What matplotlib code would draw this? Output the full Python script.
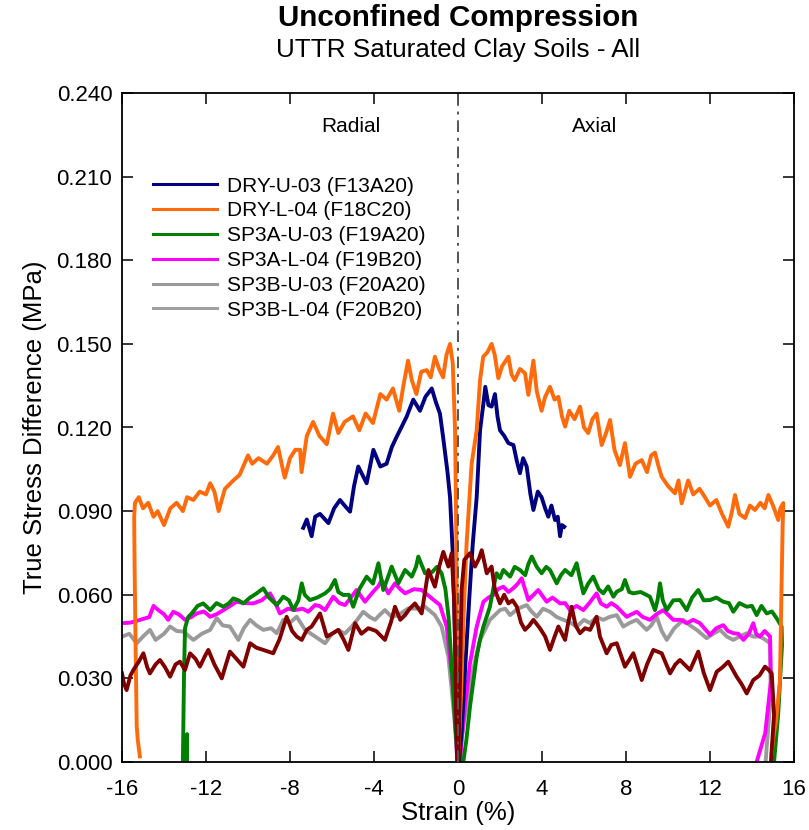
import matplotlib
matplotlib.use("Agg")
import matplotlib.pyplot as plt
from matplotlib.lines import Line2D

plt.rcParams['font.family'] = ['Liberation Sans', 'DejaVu Sans']

# ---------------- data (strain %, true stress difference MPa) ----------------
dry_u03_rad_strain = [-7.37, -7.2, -6.97, -6.8, -6.57, -6.17, -5.9, -5.62, -5.4, -5.14, -4.95, -4.75, -4.35,
                      -4.03, -3.7, -3.4, -3.15, -2.92, -2.7, -2.44, -2.13, -1.81, -1.55, -1.25, -1.05, -0.86,
                      -0.7, -0.5, -0.38, -0.25, -0.19, -0.1, -0.03]
dry_u03_rad_stress = [0.084, 0.087, 0.081, 0.088, 0.089, 0.0857, 0.091, 0.094, 0.092, 0.0898, 0.099, 0.106, 0.100,
                      0.112, 0.106, 0.107, 0.113, 0.1167, 0.120, 0.124, 0.130, 0.126, 0.131, 0.134, 0.129, 0.125,
                      0.116, 0.104, 0.095, 0.075, 0.059, 0.030, 0.0]
dry_u03_ax_strain = [0.05, 0.18, 0.35, 0.54, 0.7, 0.89, 1.05, 1.2, 1.3, 1.45, 1.6, 1.76, 1.88, 2.0, 2.2, 2.4,
                     2.64, 2.8, 2.95, 3.1, 3.27, 3.45, 3.59, 3.8, 3.98, 4.15, 4.3, 4.45, 4.62, 4.75, 4.86,
                     4.95, 5.06]
dry_u03_ax_stress = [0.0, 0.0115, 0.035, 0.059, 0.078, 0.095, 0.119, 0.128, 0.1346, 0.128, 0.1275, 0.132, 0.124,
                     0.119, 0.117, 0.1144, 0.1137, 0.108, 0.1036, 0.109, 0.106, 0.096, 0.0904, 0.097, 0.095,
                     0.091, 0.088, 0.092, 0.0868, 0.088, 0.081, 0.085, 0.0844]

dry_l04_rad_strain = [-15.15, -15.25, -15.3, -15.35, -15.4, -15.42, -15.38, -15.2, -15.0, -14.75, -14.5, -14.3,
                      -14.0, -13.7, -13.4, -13.1, -12.9, -12.6, -12.3, -12.0, -11.8, -11.6, -11.4, -11.1,
                      -10.7, -10.4, -10.0, -9.8, -9.5, -9.1, -8.8, -8.57, -8.4, -8.25, -8.0, -7.75, -7.52,
                      -7.45, -7.2, -6.9, -6.6, -6.25, -5.95, -5.7, -5.4, -5.0, -4.7, -4.4, -4.05, -3.7, -3.4,
                      -3.1, -2.8, -2.6, -2.38, -2.2, -1.98, -1.75, -1.49, -1.3, -1.1, -0.9, -0.71, -0.55,
                      -0.38, -0.25, -0.14, -0.08, -0.04, 0.0]
dry_l04_rad_stress = [0.002, 0.008, 0.013, 0.040, 0.070, 0.088, 0.093, 0.095, 0.091, 0.093, 0.088, 0.090,
                      0.085, 0.091, 0.093, 0.090, 0.095, 0.094, 0.097, 0.096, 0.100, 0.097, 0.090, 0.098,
                      0.101, 0.103, 0.110, 0.107, 0.109, 0.107, 0.110, 0.113, 0.107, 0.102, 0.109, 0.112, 0.112,
                      0.104, 0.117, 0.122, 0.117, 0.114, 0.125, 0.118, 0.122, 0.124, 0.119, 0.125, 0.1216, 0.132,
                      0.130, 0.134, 0.126, 0.135, 0.144, 0.137, 0.132, 0.140, 0.1406, 0.138, 0.1454, 0.141,
                      0.138, 0.146, 0.150, 0.143, 0.119, 0.080, 0.030, 0.0]
dry_l04_ax_strain = [0.0, 0.15, 0.28, 0.41, 0.65, 0.89, 1.05, 1.2, 1.4, 1.6, 1.75, 1.92, 2.1, 2.4, 2.55, 2.7,
                     2.95, 3.19, 3.35, 3.59, 3.75, 3.98, 4.15, 4.38, 4.6, 4.78, 4.95, 5.1, 5.3, 5.55, 5.81,
                     6.0, 6.2, 6.4, 6.6, 6.84, 7.05, 7.24, 7.45, 7.71, 7.95, 8.19, 8.45, 8.75, 9.0, 9.2,
                     9.38, 9.55, 9.7, 10.0, 10.33, 10.5, 10.65, 10.96, 11.2, 11.5, 11.76, 12.0, 12.3, 12.56,
                     12.87, 13.05, 13.19, 13.4, 13.67, 13.9, 14.14, 14.4, 14.6, 14.78, 15.0, 15.25, 15.35,
                     15.49, 15.46, 15.4, 15.33, 15.15, 15.0, 14.94]
dry_l04_ax_stress = [0.0, 0.025, 0.055, 0.0785, 0.107, 0.119, 0.137, 0.1454, 0.147, 0.150, 0.146, 0.1377,
                     0.142, 0.1454, 0.139, 0.137, 0.141, 0.1395, 0.1317, 0.144, 0.133, 0.126, 0.131, 0.1346,
                     0.130, 0.131, 0.124, 0.1203, 0.126, 0.123, 0.1275, 0.120, 0.118, 0.123, 0.125, 0.1137,
                     0.118, 0.1227, 0.112, 0.1065, 0.1144, 0.1023, 0.107, 0.1083, 0.104, 0.110, 0.111, 0.106,
                     0.1023, 0.099, 0.0964, 0.101, 0.0928, 0.101, 0.096, 0.098, 0.095, 0.092, 0.094, 0.0892,
                     0.0844, 0.090, 0.0958, 0.089, 0.0875, 0.092, 0.0904, 0.093, 0.091, 0.0958, 0.092, 0.0868,
                     0.091, 0.0929, 0.085, 0.060, 0.029, 0.015, 0.008, 0.003]

sp3a_u03_rad_strain = [-12.9, -12.9, -13.0, -13.1, -13.05, -13.0, -12.85, -12.68, -12.4, -12.13, -11.8, -11.5,
                       -11.17, -10.9, -10.7, -10.45, -10.22, -9.9, -9.59, -9.27, -9.0, -8.63, -8.32, -8.05,
                       -7.84, -7.6, -7.44, -7.3, -7.05, -6.7, -6.33, -6.1, -5.86, -5.7, -5.46, -5.2, -4.99,
                       -4.7, -4.35, -4.05, -3.79, -3.56, -3.35, -3.16, -2.84, -2.52, -2.2, -2.0, -1.89, -1.57,
                       -1.25, -1.0, -0.78, -0.6, -0.45, -0.35, -0.25, -0.12, 0.0]
sp3a_u03_rad_stress = [0.0, 0.010, 0.0, 0.0, 0.030, 0.048, 0.052, 0.0533, 0.056, 0.0569, 0.0545, 0.057,
                       0.0557, 0.057, 0.0587, 0.058, 0.0569, 0.059, 0.0605, 0.0623, 0.059, 0.0563, 0.0593, 0.058,
                       0.0545, 0.058, 0.0641, 0.060, 0.0581, 0.059, 0.0605, 0.062, 0.0653, 0.061, 0.0599, 0.060,
                       0.0557, 0.062, 0.0665, 0.064, 0.0713, 0.0617, 0.066, 0.0701, 0.0641, 0.0689, 0.0665,
                       0.070, 0.0737, 0.0677, 0.068, 0.070, 0.0677, 0.062, 0.052, 0.040, 0.028, 0.012, 0.0]
sp3a_u03_ax_strain = [0.25, 0.4, 0.57, 0.75, 0.89, 1.05, 1.21, 1.52, 1.7, 1.84, 2.0, 2.16, 2.48, 2.7, 2.95,
                      3.2, 3.35, 3.51, 3.75, 3.98, 4.2, 4.38, 4.7, 4.9, 5.1, 5.4, 5.65, 5.8, 5.97, 6.2, 6.44,
                      6.7, 6.92, 7.15, 7.4, 7.56, 7.8, 7.95, 8.15, 8.35, 8.7, 9.14, 9.38, 9.5, 9.62, 9.75,
                      9.94, 10.25, 10.57, 10.89, 11.15, 11.44, 11.7, 12.0, 12.3, 12.63, 12.9, 13.11, 13.4,
                      13.75, 14.0, 14.22, 14.45, 14.7, 14.95, 15.17, 15.41, 15.43, 15.25, 15.05]
sp3a_u03_ax_stress = [0.0, 0.008, 0.0198, 0.030, 0.0378, 0.044, 0.0486, 0.0557, 0.063, 0.0677, 0.066, 0.0689,
                      0.0665, 0.070, 0.0689, 0.067, 0.071, 0.0737, 0.070, 0.0677, 0.070, 0.0689, 0.0641, 0.067,
                      0.0689, 0.067, 0.0713, 0.066, 0.0605, 0.064, 0.0665, 0.062, 0.0605, 0.063, 0.0593, 0.0611,
                      0.062, 0.0653, 0.061, 0.0605, 0.061, 0.0593, 0.0545, 0.058, 0.0641, 0.058, 0.0545, 0.058,
                      0.0581, 0.0545, 0.059, 0.0617, 0.058, 0.0581, 0.059, 0.0575, 0.057, 0.0539, 0.057,
                      0.0557, 0.056, 0.0527, 0.056, 0.0533, 0.054, 0.0516, 0.0486, 0.042, 0.0175, 0.0]

sp3a_l04_rad_strain = [-16.0, -15.6, -15.14, -14.7, -14.5, -14.27, -14.0, -13.8, -13.56, -13.3, -13.0, -12.7,
                       -12.44, -12.1, -11.8, -11.5, -11.17, -10.85, -10.54, -10.2, -9.75, -9.35, -8.95, -8.7,
                       -8.48, -8.1, -7.76, -7.4, -7.13, -6.81, -6.6, -6.33, -5.94, -5.65, -5.38, -5.1, -4.83,
                       -4.43, -4.05, -3.8, -3.63, -3.32, -3.0, -2.75, -2.52, -2.1, -1.73, -1.25, -0.86, -0.54,
                       -0.3, -0.17, -0.03]
sp3a_l04_rad_stress = [0.0498, 0.050, 0.051, 0.052, 0.056, 0.0545, 0.053, 0.051, 0.0539, 0.053, 0.051, 0.052,
                       0.0533, 0.054, 0.0521, 0.053, 0.0545, 0.056, 0.0575, 0.057, 0.0569, 0.058, 0.0605, 0.057,
                       0.0533, 0.055, 0.0545, 0.055, 0.0539, 0.0563, 0.056, 0.0545, 0.0593, 0.057, 0.0563,
                       0.059, 0.0617, 0.0575, 0.061, 0.063, 0.0653, 0.0605, 0.0641, 0.062, 0.0605, 0.062,
                       0.0617, 0.0587, 0.0563, 0.0486, 0.0318, 0.0198, 0.0]
sp3a_l04_ax_strain = [0.1, 0.17, 0.33, 0.57, 0.89, 1.21, 1.45, 1.68, 1.9, 2.16, 2.4, 2.63, 2.85, 3.03, 3.35,
                      3.6, 3.82, 4.22, 4.5, 4.86, 5.1, 5.33, 5.65, 5.97, 6.25, 6.6, 6.8, 7.08, 7.3, 7.56, 8.03,
                      8.51, 8.8, 9.14, 9.45, 9.78, 10.25, 10.6, 10.89, 11.2, 11.52, 12.0, 12.3, 12.63, 12.85,
                      13.11, 13.35, 13.59, 13.85, 14.06, 14.2, 14.38, 14.6, 14.86, 14.9, 14.63, 14.22]
sp3a_l04_ax_stress = [0.0, 0.008, 0.0198, 0.0354, 0.0486, 0.0575, 0.059, 0.0599, 0.062, 0.0629, 0.061, 0.0623,
                      0.064, 0.0659, 0.0581, 0.060, 0.0617, 0.0575, 0.059, 0.0569, 0.057, 0.0545, 0.056, 0.0545,
                      0.057, 0.0605, 0.0569, 0.0557, 0.057, 0.0557, 0.0521, 0.0539, 0.052, 0.051, 0.053, 0.0545,
                      0.051, 0.051, 0.0498, 0.051, 0.0498, 0.0456, 0.048, 0.0491, 0.047, 0.0462, 0.046, 0.0438,
                      0.046, 0.0498, 0.046, 0.045, 0.047, 0.045, 0.029, 0.0104, 0.0]

sp3b_u03_rad_strain = [-16.0, -15.65, -15.3, -15.0, -14.67, -14.4, -14.0, -13.71, -13.4, -13.08, -12.6, -12.2,
                       -11.8, -11.49, -11.2, -10.86, -10.46, -10.2, -9.9, -9.6, -9.27, -8.9, -8.63, -8.32, -8.0,
                       -7.68, -7.28, -6.8, -6.33, -6.0, -5.7, -5.4, -5.06, -4.8, -4.51, -4.2, -3.95, -3.7,
                       -3.48, -3.15, -2.84, -2.37, -2.0, -1.57, -1.1, -0.78, -0.46, -0.3, -0.14, -0.03]
sp3b_u03_rad_stress = [0.045, 0.046, 0.0426, 0.045, 0.0474, 0.0438, 0.046, 0.0486, 0.047, 0.0468, 0.0438, 0.046,
                       0.0474, 0.0516, 0.049, 0.0486, 0.0438, 0.048, 0.051, 0.049, 0.0474, 0.048, 0.0462, 0.051,
                       0.050, 0.0521, 0.0474, 0.045, 0.0426, 0.046, 0.0474, 0.046, 0.0486, 0.051, 0.0539, 0.052,
                       0.051, 0.053, 0.0545, 0.052, 0.0527, 0.0551, 0.055, 0.0557, 0.0527, 0.0486, 0.0378,
                       0.0258, 0.0127, 0.0]
sp3b_u03_ax_strain = [0.05, 0.1, 0.25, 0.57, 0.8, 1.05, 1.52, 2.0, 2.25, 2.48, 2.85, 3.27, 3.5, 3.75, 4.05,
                      4.38, 4.7, 5.02, 5.35, 5.65, 6.0, 6.29, 6.6, 6.92, 7.2, 7.56, 7.87, 8.2, 8.51, 8.98, 9.2,
                      9.46, 9.7, 9.94, 10.3, 10.73, 11.05, 11.37, 11.84, 12.15, 12.48, 12.8, 13.11, 13.4, 13.75,
                      14.05, 14.38, 14.6, 14.86, 14.9, 14.7, 14.65]
sp3b_u03_ax_stress = [0.0, 0.003, 0.0127, 0.027, 0.036, 0.0438, 0.051, 0.0545, 0.055, 0.0527, 0.055, 0.0563,
                      0.054, 0.0521, 0.055, 0.0539, 0.052, 0.051, 0.050, 0.0486, 0.051, 0.0498, 0.052, 0.051,
                      0.052, 0.0527, 0.0486, 0.050, 0.051, 0.0474, 0.049, 0.0521, 0.047, 0.0438, 0.048, 0.051,
                      0.049, 0.0474, 0.0444, 0.046, 0.0474, 0.045, 0.0438, 0.045, 0.0462, 0.045, 0.045, 0.044,
                      0.0426, 0.024, 0.0055, 0.0]

sp3b_l04_rad_strain = [-16.0, -15.9, -15.78, -15.6, -15.46, -15.2, -14.98, -14.8, -14.67, -14.4, -14.19,
                       -13.95, -13.71, -13.45, -13.24, -13.0, -12.76, -12.5, -12.29, -12.05, -11.89, -11.6,
                       -11.25, -11.05, -10.86, -10.55, -10.22, -9.9, -9.6, -9.27, -8.8, -8.5, -8.16, -7.9,
                       -7.68, -7.44, -7.2, -6.97, -6.57, -6.25, -6.0, -5.7, -5.45, -5.22, -4.9, -4.6, -4.27,
                       -3.9, -3.48, -3.2, -3.0, -2.75, -2.52, -2.3, -2.05, -1.73, -1.55, -1.41, -1.1, -0.9,
                       -0.7, -0.46, -0.3, -0.17, -0.06, 0.0]
sp3b_l04_rad_stress = [0.0318, 0.028, 0.0258, 0.031, 0.033, 0.036, 0.039, 0.034, 0.0318, 0.035, 0.0366, 0.034,
                       0.0306, 0.035, 0.036, 0.033, 0.039, 0.037, 0.0342, 0.038, 0.0402, 0.035, 0.030, 0.035,
                       0.0396, 0.037, 0.0342, 0.0426, 0.041, 0.0402, 0.039, 0.044, 0.0521, 0.047, 0.045, 0.0438,
                       0.0474, 0.0486, 0.0533, 0.045, 0.046, 0.0474, 0.044, 0.0402, 0.0498, 0.046, 0.048, 0.047,
                       0.0438, 0.050, 0.0557, 0.051, 0.0527, 0.055, 0.0569, 0.0533, 0.062, 0.0689, 0.0629,
                       0.070, 0.0754, 0.0701, 0.0749, 0.0557, 0.008, 0.0]
sp3b_l04_ax_strain = [0.02, 0.1, 0.17, 0.3, 0.57, 0.81, 1.0, 1.13, 1.37, 1.6, 1.76, 2.0, 2.2, 2.4, 2.6, 2.8,
                      3.0, 3.19, 3.4, 3.59, 3.9, 4.15, 4.38, 4.6, 4.78, 5.1, 5.25, 5.41, 5.6, 5.81, 6.05, 6.29,
                      6.6, 6.76, 7.08, 7.3, 7.56, 7.95, 8.35, 8.75, 9.0, 9.3, 9.7, 10.1, 10.35, 10.57, 11.05,
                      11.44, 11.7, 12.0, 12.32, 12.6, 12.87, 13.27, 13.5, 13.75, 14.06, 14.35, 14.62, 14.8,
                      14.94, 15.05, 14.9]
sp3b_l04_ax_stress = [0.0, 0.032, 0.0617, 0.0725, 0.0749, 0.0701, 0.073, 0.076, 0.0677, 0.0701, 0.0617, 0.0569,
                      0.060, 0.0569, 0.058, 0.0557, 0.050, 0.0474, 0.049, 0.051, 0.048, 0.045, 0.0402, 0.045,
                      0.0486, 0.0438, 0.050, 0.0557, 0.049, 0.0462, 0.048, 0.0474, 0.0521, 0.045, 0.039, 0.042,
                      0.0426, 0.0342, 0.039, 0.0294, 0.035, 0.0402, 0.039, 0.0318, 0.035, 0.0366, 0.033, 0.0396,
                      0.032, 0.0258, 0.0324, 0.034, 0.036, 0.0306, 0.028, 0.0246, 0.0294, 0.031, 0.0342, 0.033,
                      0.0318, 0.017, 0.0]

labels = ["DRY-U-03 (F13A20)", "DRY-L-04 (F18C20)", "SP3A-U-03 (F19A20)",
          "SP3A-L-04 (F19B20)", "SP3B-U-03 (F20A20)", "SP3B-L-04 (F20B20)"]
legend_colors = ["#000080", "#FF6A0A", "#008000", "#FF00FF", "#9A9A9A", "#A0A0A0"]
xticks = [-16, -12, -8, -4, 0, 4, 8, 12, 16]
yticks = [0.000, 0.030, 0.060, 0.090, 0.120, 0.150, 0.180, 0.210, 0.240]

# ---------------- figure ----------------
fig = plt.figure(figsize=(8.09, 8.30), dpi=100)
ax = fig.add_axes([122 / 809, 68 / 830, 672 / 809, 669 / 830])

lw = 2.8
curves = [
    (sp3b_u03_rad_strain, sp3b_u03_rad_stress, sp3b_u03_ax_strain, sp3b_u03_ax_stress, "#9A9A9A"),
    (sp3a_l04_rad_strain, sp3a_l04_rad_stress, sp3a_l04_ax_strain, sp3a_l04_ax_stress, "#FF00FF"),
    (sp3a_u03_rad_strain, sp3a_u03_rad_stress, sp3a_u03_ax_strain, sp3a_u03_ax_stress, "#008000"),
    (dry_u03_rad_strain, dry_u03_rad_stress, dry_u03_ax_strain, dry_u03_ax_stress, "#000080"),
    (dry_l04_rad_strain, dry_l04_rad_stress, dry_l04_ax_strain, dry_l04_ax_stress, "#FF6A0A"),
    (sp3b_l04_rad_strain, sp3b_l04_rad_stress, sp3b_l04_ax_strain, sp3b_l04_ax_stress, "#800000"),
]
for rs, rv, xs, xv, c in curves:
    ax.plot(rs, rv, color=c, lw=lw, solid_joinstyle='round')
    ax.plot(xs, xv, color=c, lw=lw, solid_joinstyle='round')

ax.axvline(0, color="#555555", lw=1.4, ls=(0, (6, 3, 1.5, 3)), zorder=5)

ax.set_xlim(-16, 16)
ax.set_ylim(0, 0.24)
ax.set_xticks(xticks)
ax.set_xticklabels([str(t) for t in xticks])
ax.set_yticks(yticks)
ax.set_yticklabels([f"{t:.3f}" for t in yticks])
ax.tick_params(direction='in', length=8, width=1.1, labelsize=16, top=True, right=True)
ax.tick_params(axis='x', pad=12)
ax.tick_params(axis='y', pad=7)
for sp in ax.spines.values():
    sp.set_linewidth(1.3)

ax.set_xlabel("Strain (%)", fontsize=18.5, labelpad=1)
ax.set_ylabel("True Stress Difference (MPa)", fontsize=18.5, labelpad=7)

ax.text(-5.1, 0.228, "Radial", fontsize=15, ha='center', va='center')
ax.text(6.5, 0.228, "Axial", fontsize=15, ha='center', va='center')

handles = [Line2D([], [], color=c, lw=2.2) for c in legend_colors]
ax.legend(handles, labels, loc='upper left', bbox_to_anchor=(0.046, 0.875), frameon=False,
          fontsize=15, handlelength=3.1, handletextpad=0.45, labelspacing=0.28, borderpad=0,
          borderaxespad=0)

fig.text(458 / 809, 1 - 18 / 830, "Unconfined Compression", fontsize=21.3, fontweight='bold',
         ha='center', va='center')
fig.text(458 / 809, 1 - 50 / 830, "UTTR Saturated Clay Soils - All", fontsize=18.8,
         ha='center', va='center')

fig.savefig("out.png", dpi=100)
